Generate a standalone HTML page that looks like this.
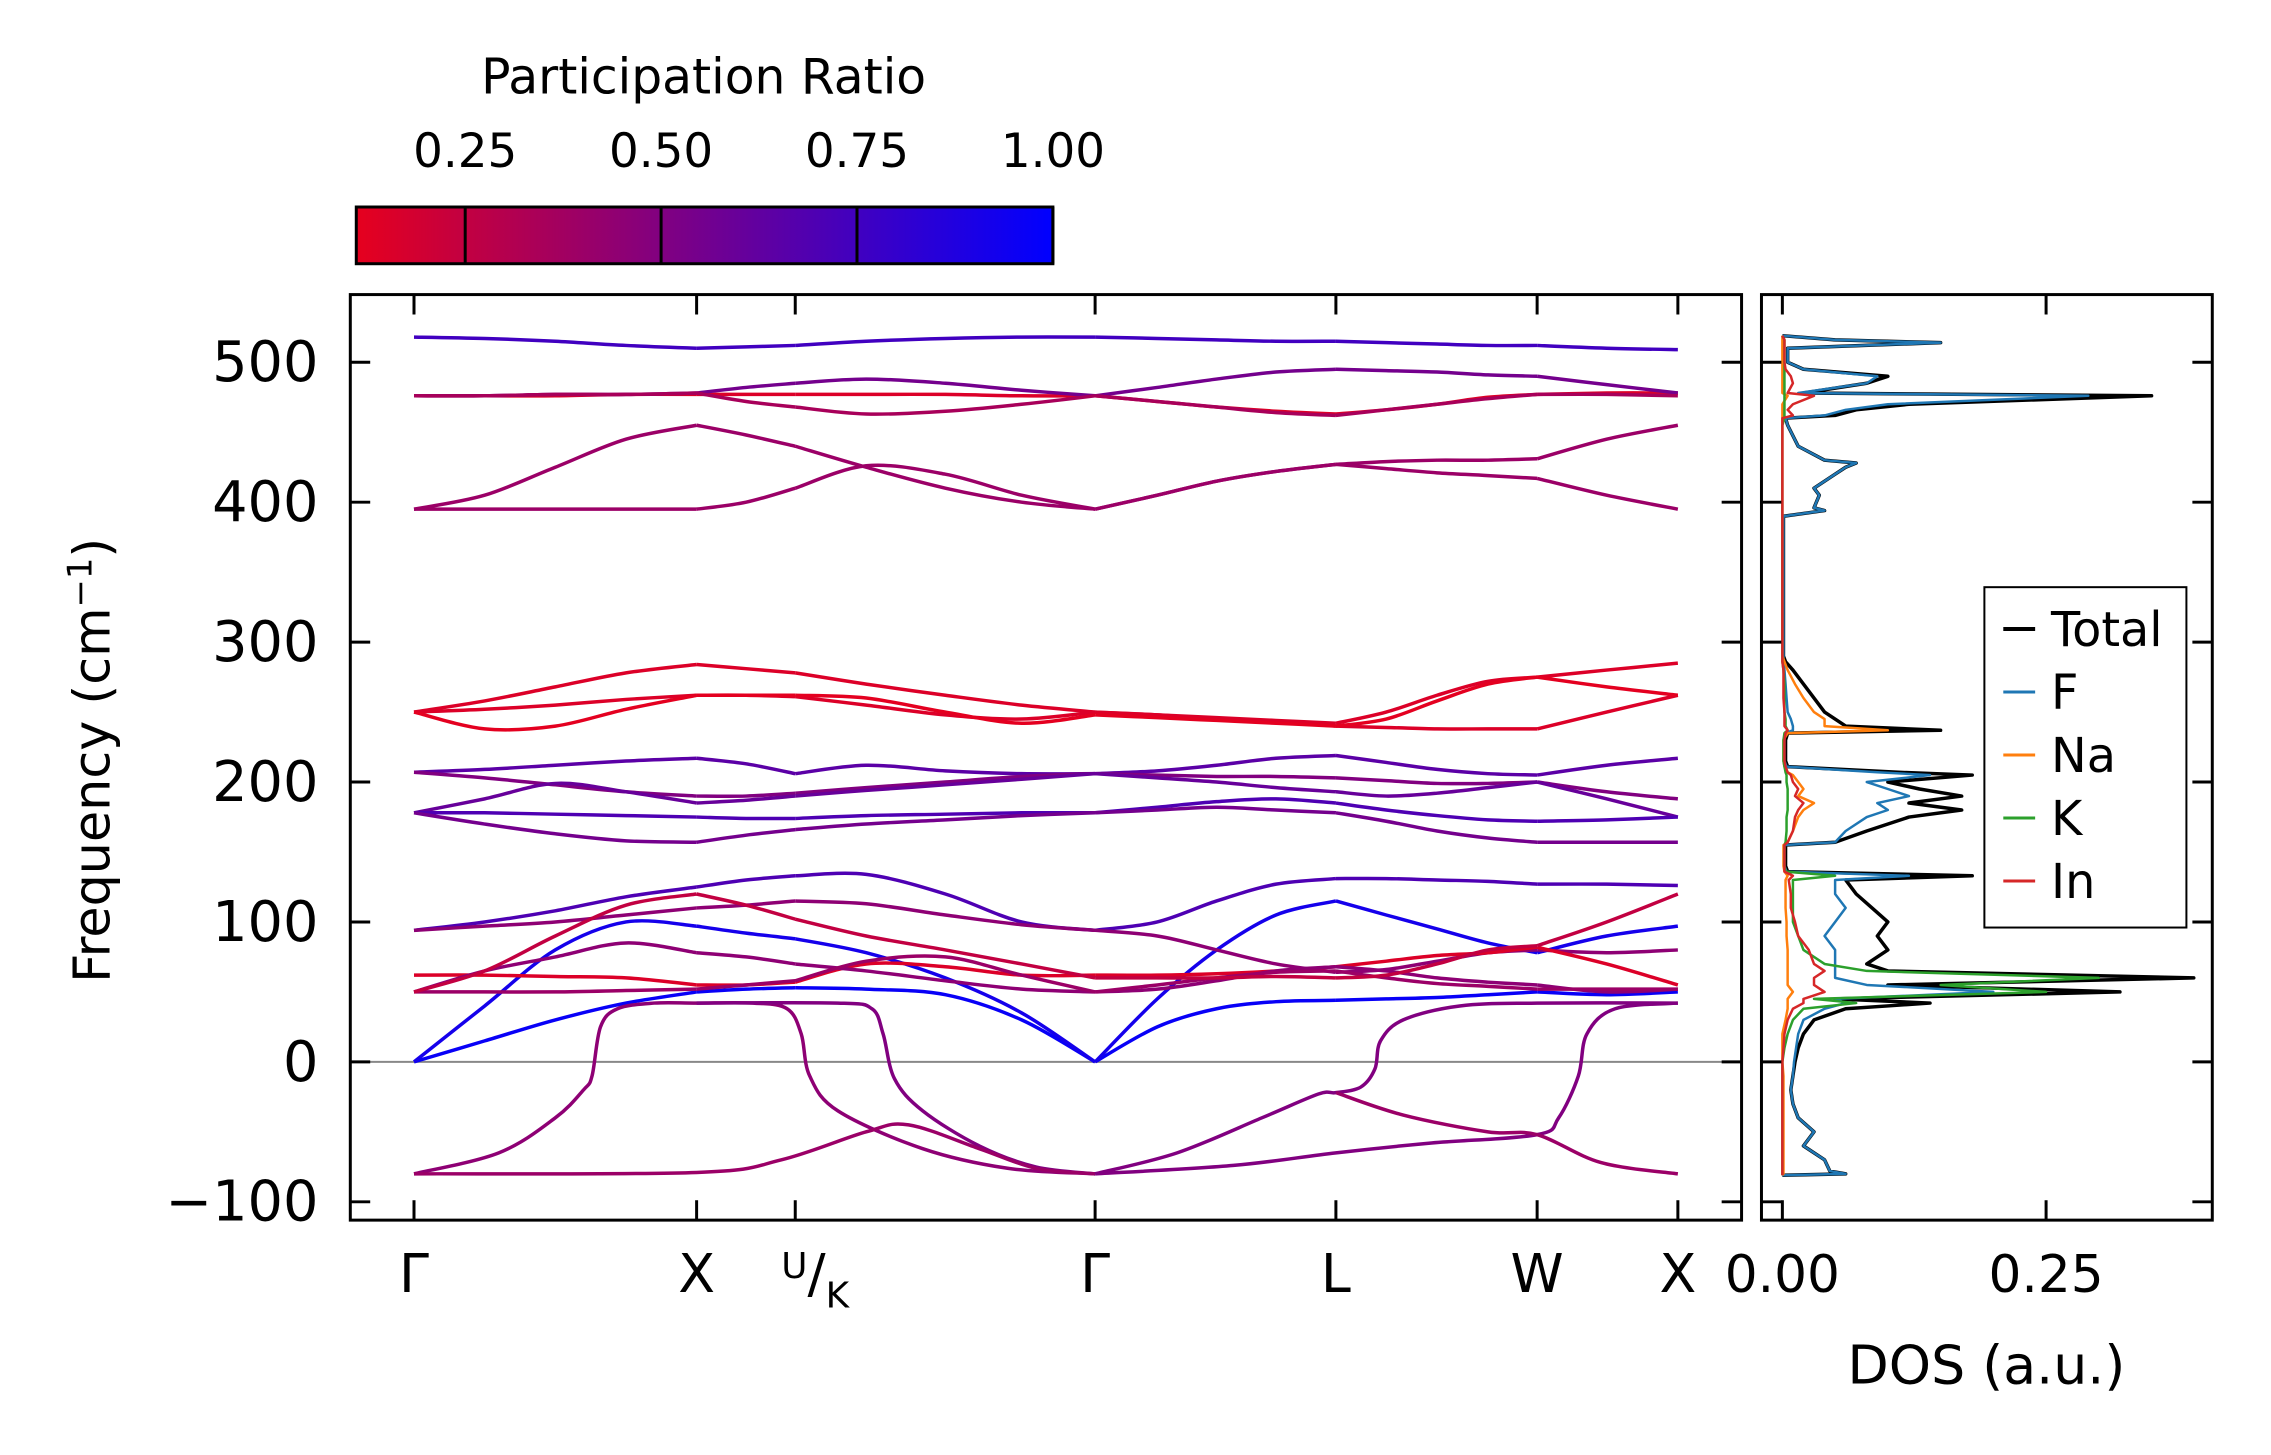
<!DOCTYPE html>
<html><head><meta charset="utf-8"><style>
html,body{margin:0;padding:0;background:#fff;}
svg{display:block;font-family:"DejaVu Sans","Liberation Sans",sans-serif;}
</style></head><body>
<svg id="fig" width="2271" height="1455" viewBox="0 0 2282 1462" preserveAspectRatio="none" xmlns="http://www.w3.org/2000/svg">
<defs>
<linearGradient id="cbg" x1="0" x2="1" y1="0" y2="0"><stop offset="0" stop-color="rgb(230,0,30)"/><stop offset="1" stop-color="rgb(0,0,255)"/></linearGradient>
<clipPath id="mainclip"><rect x="352" y="296" width="1398" height="930"/></clipPath>
<clipPath id="dosclip"><rect x="1770" y="296" width="453" height="930"/></clipPath>
</defs>
<g>
<text x="707" y="94" font-size="49" text-anchor="middle">Participation Ratio</text>
<rect x="358" y="208" width="700" height="57" fill="url(#cbg)" stroke="#000" stroke-width="3"/>
<g id="cbticks"></g>
</g>
<g id="bands" clip-path="url(#mainclip)"></g>
<g id="dos" clip-path="url(#dosclip)"></g>
<g id="axes"></g>
<text transform="translate(110,764) rotate(-90)" font-size="51" text-anchor="middle">Frequency (cm<tspan dy="-18" font-size="34">−1</tspan><tspan dy="18">)</tspan></text>
<text x="1996" y="1390" font-size="54" text-anchor="middle">DOS (a.u.)</text>
<g>
<rect x="1994" y="590" width="203" height="342" fill="#fff" stroke="#000" stroke-width="2"/>
<g id="legend"></g>
</g>
</svg>
<script>
// ---------- data ----------
const kLabels = ["Γ","X","U/K","Γ","L","W","X"];
const kTicks = [0,1,1.349,2.41,3.262,3.974,4.472];
const yTicks = [-100,0,100,200,300,400,500];
const cbTicks = [0.25,0.5,0.75,1.0];
const kGrid = [0,0.25,0.5,0.75,1, 1.175,1.349, 1.6,1.88,2.15,2.41, 2.63,2.84,3.05,3.262, 3.44,3.62,3.8,3.974, 4.22,4.472];
const bandFreqs = [
[518,517,515,512,510, 511,512, 515,517,518,518, 517,516,515,515, 514,513,512,512, 510,509],
[476,476,476,477,477, 477,477, 477,477,476,476, 472,468,465,463, 466,470,475,477, 478,478],
[476,476,477,477,478, 482,485, 488,485,480,476, 482,488,493,495, 494,493,491,490, 484,478],
[476,476,477,477,478, 472,468, 463,465,470,476, 472,468,464,462, 466,470,474,477, 477,476],
[395,405,425,445,455, 448,440, 425,410,400,395, 405,415,422,427, 429,430,430,431, 445,455],
[395,395,395,395,395, 400,410, 426,420,405,395, 405,415,422,427, 424,421,419,417, 405,395],
[250,258,268,278,284, 281,278, 270,262,255,250, 248,246,244,242, 250,262,272,275, 280,285],
[250,252,255,259,262, 262,261, 255,248,245,250, 248,245,243,240, 239,238,238,238, 250,262],
[250,238,240,252,262, 262,262, 260,250,242,248, 246,244,242,240, 245,258,270,275, 268,262],
[207,209,212,215,217, 213,206, 212,208,206,206, 208,212,217,219, 214,209,206,205, 212,217],
[207,203,198,193,190, 190,192, 196,200,204,206, 205,204,204,203, 201,199,199,200, 193,188],
[178,188,199,193,185, 187,190, 194,198,202,206, 203,200,196,193, 190,192,196,200, 188,175],
[178,178,177,176,175, 174,174, 176,177,178,178, 182,186,188,185, 180,176,173,172, 173,175],
[178,170,163,158,157, 162,166, 170,173,176,178, 180,182,180,178, 172,165,160,157, 157,157],
[0,15,30,42,50, 52,53, 52,48,30,0, 25,38,43,44, 45,46,48,50, 48,50],
[0,40,80,100,97, 92,88, 78,60,35,0, 45,80,105,115, 105,95,85,78, 90,97],
[94,100,108,118,125, 130,133, 134,120,100,94, 100,115,127,131, 131,130,129,127, 127,126],
[94,97,100,105,110, 112,115, 113,105,98,94, 90,80,70,64, 66,72,78,80, 78,80],
[62,62,61,60,55, 55,57, 70,68,62,62, 62,63,65,68, 72,76,78,82, 70,55],
[50,65,75,85,78, 75,70, 65,58,52,50, 52,58,65,68, 65,60,57,55, 50,52],
[50,50,50,51,52, 55,58, 72,75,62,50, 55,60,64,65, 60,56,54,52, 52,52],
[50,65,90,112,120, 112,102, 90,80,70,60, 60,60,61,60, 62,70,80,83, 100,120]
];
const bandPR = [0.75,0.15,0.55,0.35,0.4,0.4,0.15,0.15,0.12,0.65,0.5,0.6,0.7,0.55,0.97,0.92,0.7,0.45,0.15,0.45,0.4,0.25];
const softK = [
[0,0.3,0.5,0.6,0.63,0.66,0.72,0.85,1,1.2,1.32,1.37,1.4,1.5,1.8,2.1,2.41],
[1,1.5,1.62,1.66,1.7,1.8,2.0,2.2,2.41],
[0,1,1.3,1.6,1.75,2.0,2.2,2.41],
[2.41,2.7,3.0,3.2,3.262,3.35,3.4,3.42,3.5,3.7,3.974,4.472],
[2.41,2.9,3.262,3.6,3.974,4.05,4.12,4.15,4.25,4.472],
[3.262,3.5,3.8,3.974,4.2,4.472]
];
const softF = [
[-80,-65,-40,-20,-10,25,38,42,42,42,38,20,-10,-35,-62,-76,-80],
[42,42,38,20,-12,-35,-60,-75,-80],
[-80,-79,-70,-50,-45,-62,-76,-80],
[-80,-65,-40,-23,-22,-18,-5,15,30,40,42,42],
[-80,-74,-65,-58,-52,-40,-10,20,38,42],
[-22,-38,-50,-52,-72,-80]
];
const softPR = [0.45,0.5,0.4,0.5,0.5,0.4];

const dosFreq = [-81,-80,-78,-70,-60,-50,-40,-30,-20,-10, 0,10,20,30,38,42,45,50,55,60, 65,70,80,90,100,110,120,130,133,136, 140,150,155,157,165,175,180,185,190,195, 200,205,207,211,215,230,235,237,240,245, 250,260,270,280,286,290,390,394,396,405, 410,415,420,425,428,430,440,455,460,462, 466,470,476,478,485,490,495,500,510,514, 516,519];
const dosTotal = [0,.06,.045,.04,.02,.03,.015,.01,.008,.01, .012,.015,.02,.03,.06,.14,.05,.32,.1,.39, .1,.08,.1,.09,.1,.085,.07,.06,.18,.005, .003,.003,.003,.05,.08,.12,.17,.12,.17,.13, .1,.18,.11,.005,.003,.003,.005,.15,.06,.05, .04,.03,.02,.01,.003,.001,.001,.04,.03,.035, .03,.04,.05,.06,.07,.04,.015,.005,.003,.05, .07,.12,.35,.02,.08,.1,.02,.005,.005,.15, .05,0];
const dosF = [0,.06,.045,.04,.02,.03,.015,.01,.008,.01, .011,.013,.015,.02,.04,.06,.05,.2,.08,.05, .05,.05,.05,.04,.05,.06,.05,.05,.12,.004, .002,.002,.002,.05,.06,.08,.1,.09,.12,.1, .08,.14,.09,.004,.002,.002,.003,.01,.01,.008, .005,.004,.003,.002,.001,.001,.001,.04,.03,.035, .03,.04,.05,.06,.07,.04,.015,.005,.003,.04, .06,.1,.29,.015,.08,.09,.02,.005,.005,.15, .05,0];
const dosNa = [0,.001,.001,.001,.001,.001,.001,.001,.001,.001, 0,0,0,.003,.005,.005,.005,.01,.005,.005, .005,.005,.005,.004,.004,.003,.003,.003,.005,.002, .001,.001,.001,.005,.01,.015,.02,.03,.015,.02, .015,.01,.005,.002,.001,.001,.005,.1,.04,.04, .03,.02,.012,.005,.002,0,0,0,0,0, 0,0,0,0,0,0,0,0,0,0, 0,0,.005,0,0,0,0,0,0,0, 0,0];
const dosK = [0,0,0,0,0,0,0,0,0,0, 0,.002,.005,.01,.02,.07,.03,.25,.15,.3, .08,.04,.02,.015,.01,.01,.01,.01,.05,.003, .002,.002,.002,.003,.004,.004,.005,.005,.005,.005, .004,.004,.003,.002,.001,.001,.002,.005,.003,.003, .002,.002,.002,.001,0,0,0,0,0,0, 0,0,0,0,0,0,0,0,.002,.002, .002,.002,.002,.002,.002,.002,.002,.002,.002,.002, .002,0];
const dosIn = [0,0,0,0,0,0,0,0,0,0, 0,.001,.002,.005,.01,.02,.02,.04,.03,.03, .04,.03,.025,.015,.012,.008,.008,.006,.01,.002, .002,.002,.002,.005,.01,.012,.015,.02,.012,.015, .01,.008,.005,.003,.002,.002,.003,.005,.002,.002, .002,.001,.001,.001,0,0,0,0,0,0, 0,0,0,0,0,0,0,0,0,.01, .005,.01,.03,.005,.01,.008,.003,.002,.002,.002, .002,0];
const dosSeries = [dosTotal,dosF,dosNa,dosK,dosIn];
const dosNames = ["Total","F","Na","K","In"];
const dosColors = ["#000000","#1f77b4","#ff7f0e","#2ca02c","#d62728"];
const dosTicks = [0,0.25];
const dosTickLabels = ["0.00","0.25"];

// ---------- scales ----------
const NS="http://www.w3.org/2000/svg";
const X0=416, KX=(1686-416)/4.472;
function xk(k){return X0+k*KX;}
function yf(f){return 1067-f*1.406;}
function xd(v){return 1791+v*1060;}
function cbx(v){return 358+(v-0.111)/(1-0.111)*700;}
function prColor(t){const u=Math.max(0,Math.min(1,(t-0.111)/(1-0.111)));return `rgb(${Math.round(230*(1-u))},0,${Math.round(30+225*u)})`;}
function mk(tag,attrs,parent){const e=document.createElementNS(NS,tag);for(const a in attrs)e.setAttribute(a,attrs[a]);parent.appendChild(e);return e;}
function smoothPath(pts){
  let d=`M${pts[0][0].toFixed(1)},${pts[0][1].toFixed(1)}`;
  for(let i=0;i<pts.length-1;i++){
    const p0=pts[Math.max(0,i-1)],p1=pts[i],p2=pts[i+1],p3=pts[Math.min(pts.length-1,i+2)];
    const c1=[p1[0]+(p2[0]-p0[0])/6,p1[1]+(p2[1]-p0[1])/6];
    const c2=[p2[0]-(p3[0]-p1[0])/6,p2[1]-(p3[1]-p1[1])/6];
    d+=`C${c1[0].toFixed(1)},${c1[1].toFixed(1)} ${c2[0].toFixed(1)},${c2[1].toFixed(1)} ${p2[0].toFixed(1)},${p2[1].toFixed(1)}`;
  }
  return d;
}
const bandsG=document.getElementById('bands');
const dosG=document.getElementById('dos');
const axesG=document.getElementById('axes');

let zl=mk('line',{x1:352,x2:1750,y1:yf(0),y2:yf(0),stroke:'#888',"stroke-width":2},bandsG);



bandFreqs.forEach((fs,i)=>{
  const segs=[[0,4],[4,6],[6,10],[10,14],[14,18],[18,20]];
  segs.forEach(([a,b])=>{
    const sp=[];for(let j=a;j<=b;j++)sp.push([xk(kGrid[j]),yf(fs[j])]);
    const p=mk('path',{d:smoothPath(sp),fill:'none',stroke:prColor(bandPR[i]),"stroke-width":3.5},bandsG);
    
    
  });
});
softK.forEach((ks,i)=>{
  const sp=ks.map((k,j)=>[xk(k),yf(softF[i][j])]);
  const p=mk('path',{d:smoothPath(sp),fill:'none',stroke:prColor(softPR[i]),"stroke-width":3.5},bandsG);
  
  
});

[0,1,2,3,4].forEach(s=>{
  const arr=dosSeries[s];
  const d=dosFreq.map((f,j)=>(j?'L':'M')+xd(arr[j]).toFixed(1)+','+yf(f).toFixed(1)).join('');
  const p=mk('path',{d:d,fill:'none',stroke:dosColors[s],"stroke-width":s===0?3.5:2.5,"stroke-linejoin":"round"},dosG);
  
  
});

let f1=mk('rect',{x:352,y:296,width:1398,height:930,fill:'none',stroke:'#000','stroke-width':3},axesG);


let f2=mk('rect',{x:1770,y:296,width:453,height:930,fill:'none',stroke:'#000','stroke-width':3},axesG);



yTicks.forEach(v=>{
  const y=yf(v);
  mk('line',{x1:352,x2:372,y1:y,y2:y,stroke:'#000','stroke-width':3},axesG);
  mk('line',{x1:1730,x2:1750,y1:y,y2:y,stroke:'#000','stroke-width':3},axesG);
  mk('line',{x1:1770,x2:1790,y1:y,y2:y,stroke:'#000','stroke-width':3},axesG);
  mk('line',{x1:2203,x2:2223,y1:y,y2:y,stroke:'#000','stroke-width':3},axesG);
  const t=mk('text',{x:320,y:y+19,'font-size':56,'text-anchor':'end'},axesG);
  t.textContent=v<0?'−'+Math.abs(v):String(v);
  
  
});
kTicks.forEach((k,i)=>{
  const x=xk(k);
  mk('line',{x1:x,x2:x,y1:296,y2:316,stroke:'#000','stroke-width':3},axesG);
  mk('line',{x1:x,x2:x,y1:1206,y2:1226,stroke:'#000','stroke-width':3},axesG);
  const t=mk('text',{x:x,y:1298,'font-size':54,'text-anchor':'middle'},axesG);
  if(kLabels[i]==='U/K'){
    t.innerHTML='<tspan font-size="36" dy="-14">U</tspan><tspan dy="14">/</tspan><tspan font-size="36" dy="16">K</tspan>';
    t.setAttribute('x',x+20);
  } else t.textContent=kLabels[i];
  
  
});
dosTicks.forEach((v,i)=>{
  const x=xd(v);
  mk('line',{x1:x,x2:x,y1:296,y2:316,stroke:'#000','stroke-width':3},axesG);
  mk('line',{x1:x,x2:x,y1:1206,y2:1226,stroke:'#000','stroke-width':3},axesG);
  const t=mk('text',{x:x,y:1298,'font-size':52,'text-anchor':'middle'},axesG);
  t.textContent=dosTickLabels[i];
  
  
});
const cbG=document.getElementById('cbticks');
cbTicks.forEach(v=>{
  const x=cbx(v);
  mk('line',{x1:x,x2:x,y1:208,y2:265,stroke:'#000','stroke-width':3},cbG);
  const t=mk('text',{x:x,y:168,'font-size':47,'text-anchor':'middle'},cbG);
  t.textContent=v.toFixed(2);
  
  
});
const lg=document.getElementById('legend');
dosNames.forEach((n,i)=>{
  const y=632+i*63.3;
  mk('line',{x1:2013,x2:2045,y1:y,y2:y,stroke:dosColors[i],'stroke-width':i===0?4:3},lg);
  const t=mk('text',{x:2061,y:y+17,'font-size':48},lg);
  t.textContent=n;
  
  
});
</script>
</body></html>
